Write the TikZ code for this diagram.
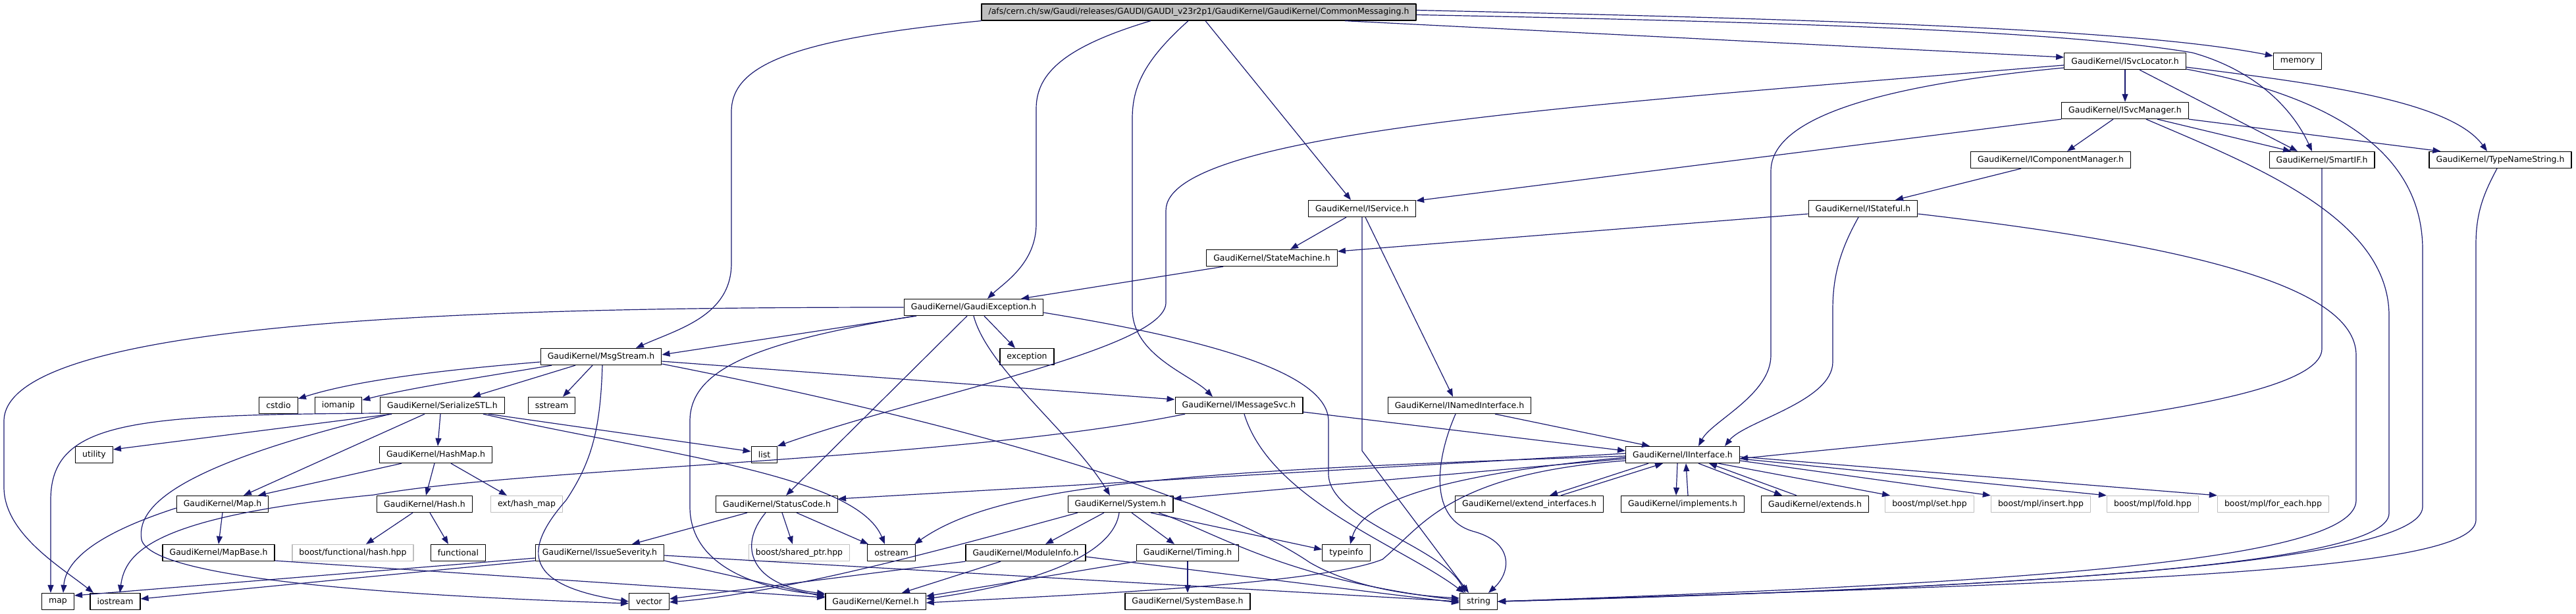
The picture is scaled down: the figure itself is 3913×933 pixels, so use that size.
\documentclass[tikz,border=0pt]{standalone}
\usepackage{fontspec}
\setmainfont{DejaVu Sans}
\usetikzlibrary{arrows.meta}
\definecolor{edgeblue}{HTML}{191970}
\definecolor{boxgray}{HTML}{BFBFBF}
\begin{document}
\begin{tikzpicture}[x=1pt,y=-1pt,line join=round,font=\fontsize{12.5}{14}\selectfont,
    hdr/.style={draw=black,line width=1.3pt,fill=white,minimum height=25pt,inner xsep=10.5pt,inner ysep=0pt},
    hdrroot/.style={hdr,fill=boxgray},
    hdrext/.style={hdr,draw=boxgray},
    dep/.style={draw=edgeblue,line width=1.2pt,-{Triangle[length=12pt,width=9pt]}}]
\useasboundingbox (0,0) rectangle (3913,933);
\node[hdrroot] (root) at (1821,18.5) {/afs/cern.ch/sw/Gaudi/releases/GAUDI/GAUDI\_v23r2p1/GaudiKernel/GaudiKernel/CommonMessaging.h};
\node[hdr] (svcloc) at (3228,93) {GaudiKernel/ISvcLocator.h};
\node[hdr] (memory) at (3490,93) {memory};
\node[hdr] (svcman) at (3228,168) {GaudiKernel/ISvcManager.h};
\node[hdr] (icompman) at (3115,243) {GaudiKernel/IComponentManager.h};
\node[hdr] (smartif) at (3527,243) {GaudiKernel/SmartIF.h};
\node[hdr] (typename) at (3798,243) {GaudiKernel/TypeNameString.h};
\node[hdr] (isvc) at (2069,317) {GaudiKernel/IService.h};
\node[hdr] (istateful) at (2830,317) {GaudiKernel/IStateful.h};
\node[hdr] (statemach) at (1932,392) {GaudiKernel/StateMachine.h};
\node[hdr] (gexc) at (1479,467) {GaudiKernel/GaudiException.h};
\node[hdr] (exception) at (1560,542) {exception};
\node[hdr] (msgstream) at (913,542) {GaudiKernel/MsgStream.h};
\node[hdr] (imsgsvc) at (1882,616) {GaudiKernel/IMessageSvc.h};
\node[hdr] (inamed) at (2217,616) {GaudiKernel/INamedInterface.h};
\node[hdr] (cstdio) at (423,616) {cstdio};
\node[hdr] (iomanip) at (514,616) {iomanip};
\node[hdr] (serial) at (672,616) {GaudiKernel/SerializeSTL.h};
\node[hdr] (sstream) at (838,616) {sstream};
\node[hdr] (utility) at (143,691) {utility};
\node[hdr] (list) at (1161,691) {list};
\node[hdr] (hashmap) at (662,691) {GaudiKernel/HashMap.h};
\node[hdr] (iiface) at (2556,691) {GaudiKernel/IInterface.h};
\node[hdr] (mapg) at (338,766) {GaudiKernel/Map.h};
\node[hdr] (hash) at (645,766) {GaudiKernel/Hash.h};
\node[hdrext] (exthash) at (800,766) {ext/hash\_map};
\node[hdr] (statuscode) at (1180,766) {GaudiKernel/StatusCode.h};
\node[hdr] (system) at (1702,766) {GaudiKernel/System.h};
\node[hdr] (extifs) at (2323,766) {GaudiKernel/extend\_interfaces.h};
\node[hdr] (implements) at (2556,766) {GaudiKernel/implements.h};
\node[hdr] (extends) at (2757,766) {GaudiKernel/extends.h};
\node[hdrext] (mplset) at (2931,766) {boost/mpl/set.hpp};
\node[hdrext] (mplinsert) at (3100,766) {boost/mpl/insert.hpp};
\node[hdrext] (mplfold) at (3270,766) {boost/mpl/fold.hpp};
\node[hdrext] (mplforeach) at (3453,766) {boost/mpl/for\_each.hpp};
\node[hdr] (mapbase) at (332,840) {GaudiKernel/MapBase.h};
\node[hdrext] (bfhash) at (536,840) {boost/functional/hash.hpp};
\node[hdr] (functional) at (696,840) {functional};
\node[hdr] (issue) at (911,840) {GaudiKernel/IssueSeverity.h};
\node[hdrext] (sharedptr) at (1214,840) {boost/shared\_ptr.hpp};
\node[hdr] (ostream) at (1354,840) {ostream};
\node[hdr] (moduleinfo) at (1558,840) {GaudiKernel/ModuleInfo.h};
\node[hdr] (timing) at (1804,840) {GaudiKernel/Timing.h};
\node[hdr] (typeinfo) at (2045,840) {typeinfo};
\node[hdr] (stdmap) at (88,914) {map};
\node[hdr] (iostream) at (175,914) {iostream};
\node[hdr] (vector) at (986,914) {vector};
\node[hdr] (kernel) at (1330,914) {GaudiKernel/Kernel.h};
\node[hdr] (systembase) at (1804,914) {GaudiKernel/SystemBase.h};
\node[hdr] (string) at (2246,914) {string};

\draw[dep] (root.south west) .. controls (1200,60) and (1111,100) .. (1111,170) -- (1111,400)
    .. controls (1111,480) and (1030,500) .. ([xshift=53]msgstream.north);
\draw[dep] ([xshift=-73]root.south) .. controls (1620,70) and (1574,110) .. (1574,165) -- (1574,340)
    .. controls (1574,400) and (1525,430) .. ([xshift=21]gexc.north);
\draw[dep] ([xshift=-16]root.south) .. controls (1740,90) and (1720,130) .. (1720,180) -- (1720,470)
    .. controls (1720,540) and (1810,570) .. ([xshift=-40]imsgsvc.north);
\draw[dep] ([xshift=10]root.south) -- ([xshift=-17]isvc.north);
\draw[dep] ([xshift=222]root.south) -- ([yshift=6]svcloc.west);
\draw[dep] ([yshift=3]root.east) .. controls (2800,30) and (3250,45) .. ([yshift=8]memory.west);
\draw[dep] ([yshift=-4]root.east) .. controls (2800,35) and (3150,50) .. (3330,80)
    .. controls (3420,105) and (3480,160) .. ([xshift=-15]smartif.north);
\draw[dep] (svcloc) -- (svcman);
\draw[dep] ([xshift=22]svcloc.south) -- ([xshift=-37]smartif.north);
\draw[dep] ([yshift=-9]svcloc.east) .. controls (3500,125) and (3720,150) .. ([xshift=-20]typename.north);
\draw[dep] ([yshift=-12]svcloc.east) .. controls (3560,150) and (3680,240) .. (3680,380) -- (3680,770)
    .. controls (3680,860) and (3000,895) .. (string.east);
\draw[dep] ([yshift=-6]svcloc.west) .. controls (2400,160) and (1771,200) .. (1771,320) -- (1771,460)
    .. controls (1771,530) and (1400,600) .. ([xshift=20]list.north);
\draw[dep] ([yshift=-10]svcloc.west) .. controls (2850,130) and (2690,180) .. (2690,260) -- (2690,540)
    .. controls (2690,600) and (2600,640) .. ([xshift=24]iiface.north);
\draw[dep] (svcman.south west) -- ([yshift=12]isvc.east);
\draw[dep] ([xshift=-18]svcman.south) -- ([xshift=25]icompman.north);
\draw[dep] ([xshift=49]svcman.south) -- ([xshift=-47]smartif.north);
\draw[dep] (svcman.south east) -- ([xshift=18]typename.north west);
\draw[dep] ([xshift=32]svcman.south) .. controls (3420,250) and (3629,330) .. (3629,480) -- (3629,780)
    .. controls (3629,860) and (3050,893) .. (string.east);
\draw[dep] ([xshift=-45]icompman.south) -- ([xshift=49]istateful.north);
\draw[dep] ([yshift=-8]istateful.west) -- ([yshift=10]statemach.east);
\draw[dep] ([xshift=-7]istateful.south) .. controls (2795,380) and (2784,420) .. (2784,470) -- (2784,550)
    .. controls (2784,610) and (2650,640) .. ([xshift=64]iiface.north);
\draw[dep] ([yshift=-8]istateful.east) .. controls (3300,370) and (3579,430) .. (3579,540) -- (3579,760)
    .. controls (3579,850) and (3100,885) .. (string.east);
\draw[dep] ([xshift=-5]typename.south) .. controls (3775,290) and (3761,320) .. (3761,370) -- (3761,790)
    .. controls (3761,870) and (3200,885) .. (string.east);
\draw[dep] (smartif.south) -- (3527,530) .. controls (3527,620) and (3000,660) .. ([yshift=-6]iiface.east);
\draw[dep] ([xshift=-24]isvc.south) -- ([xshift=28]statemach.north);
\draw[dep] (isvc.south) -- (2069,685) -- ([xshift=-15]string.north);
\draw[dep] ([xshift=5]isvc.south) -- ([xshift=-10]inamed.north);
\draw[dep] ([xshift=54]inamed.south) -- ([xshift=-50]iiface.north);
\draw[dep] ([xshift=-6]inamed.south) .. controls (2180,700) and (2170,790) .. (2240,808)
    .. controls (2300,825) and (2295,870) .. ([xshift=15]string.north);
\draw[dep] ([xshift=-74]statemach.south) -- ([xshift=72]gexc.north);
\draw[dep] ([xshift=-87]gexc.south) -- ([yshift=3]msgstream.east);
\draw[dep] (gexc.west) .. controls (800,467) and (6,480) .. (6,640) -- (6,740)
    .. controls (6,810) and (90,860) .. ([xshift=-33]iostream.north);
\draw[dep] ([xshift=16]gexc.south) -- ([xshift=-18]exception.north);
\draw[dep] ([xshift=-10]gexc.south) -- ([xshift=14]statuscode.north);
\draw[dep] (gexc.south) .. controls (1500,560) and (1630,660) .. ([xshift=-16]system.north);
\draw[dep] ([yshift=-8]gexc.east) .. controls (1800,510) and (2018,560) .. (2018,640) -- (2018,720)
    .. controls (2018,790) and (2190,830) .. ([xshift=-20]string.north);
\draw[dep] ([xshift=-90]gexc.south) .. controls (1150,520) and (1048,560) .. (1048,640) -- (1048,770)
    .. controls (1048,860) and (1150,895) .. ([yshift=10]kernel.west);
\draw[dep] ([yshift=-8]msgstream.west) .. controls (700,560) and (550,575) .. ([yshift=10]cstdio.east);
\draw[dep] ([xshift=-75]msgstream.south) .. controls (720,575) and (620,590) .. ([yshift=8]iomanip.east);
\draw[dep] ([xshift=-39]msgstream.south) -- ([xshift=46]serial.north);
\draw[dep] ([xshift=-13]msgstream.south) -- ([xshift=17]sstream.north);
\draw[dep] ([yshift=-7]msgstream.east) -- ([yshift=9]imsgsvc.west);
\draw[dep] ([xshift=2]msgstream.south) .. controls (912,650) and (900,700) .. (860,760)
    .. controls (790,840) and (800,890) .. (vector.west);
\draw[dep] ([yshift=-11]msgstream.east) .. controls (1500,650) and (1850,760) .. (1990,855)
    .. controls (2060,895) and (2150,905) .. ([yshift=5]string.west);
\draw[dep] ([xshift=-77]serial.south) -- ([yshift=8]utility.east);
\draw[dep] ([yshift=-12]serial.west) .. controls (200,630) and (77,640) .. (77,760) -- ([xshift=-11]stdmap.north);
\draw[dep] ([xshift=-27]serial.south) -- ([xshift=32]mapg.north);
\draw[dep] ([xshift=-3]serial.south) -- ([xshift=3]hashmap.north);
\draw[dep] ([xshift=-79]serial.south) .. controls (300,700) and (205,760) .. (215,820)
    .. controls (230,880) and (600,905) .. ([yshift=-3]vector.west);
\draw[dep] ([xshift=70]serial.south) -- ([yshift=5]list.west);
\draw[dep] ([xshift=62]serial.south) .. controls (1000,690) and (1300,720) .. ([xshift=-10]ostream.north);
\draw[dep] ([xshift=-52]hashmap.south) -- ([xshift=54]mapg.north);
\draw[dep] ([xshift=-2]hashmap.south) -- ([xshift=2]hash.north);
\draw[dep] ([xshift=23]hashmap.south) -- ([xshift=-30]exthash.north);
\draw[dep] ([xshift=-18]hash.south) -- ([xshift=20]bfhash.north);
\draw[dep] ([xshift=8]hash.south) -- ([xshift=-15]functional.north);
\draw[dep] (mapg.south) -- (mapbase.north);
\draw[dep] ([yshift=-6]mapg.west) .. controls (150,810) and (100,850) .. ([xshift=8]stdmap.north);
\draw[dep] ([yshift=-12]mapbase.east) -- ([yshift=6]kernel.west);
\draw[dep] ([yshift=-8]issue.west) -- ([yshift=9]stdmap.east);
\draw[dep] ([yshift=-12]issue.west) -- ([yshift=4]iostream.east);
\draw[dep] ([yshift=-12]issue.east) -- ([yshift=7]kernel.west);
\draw[dep] ([yshift=-4]issue.east) -- (string.west);
\draw[dep] ([xshift=-45]statuscode.south) -- ([xshift=49]issue.north);
\draw[dep] ([xshift=8]statuscode.south) -- ([xshift=-10]sharedptr.north);
\draw[dep] ([xshift=30]statuscode.south) -- ([xshift=-35]ostream.north);
\draw[dep] ([xshift=-17]statuscode.south) .. controls (1120,830) and (1140,890) .. ([yshift=12]kernel.west);
\draw[dep] ([xshift=-82]imsgsvc.south) .. controls (1450,700) and (800,710) .. (568,752)
    .. controls (230,785) and (190,840) .. ([xshift=7]iostream.north);
\draw[dep] ([yshift=-10]imsgsvc.east) -- ([yshift=6]iiface.west);
\draw[dep] ([xshift=8]imsgsvc.south) .. controls (1930,760) and (2130,830) .. ([xshift=-22]string.north);
\draw[dep] ([yshift=2]iiface.west) -- ([yshift=8]statuscode.east);
\draw[dep] ([yshift=-6]iiface.west) -- ([yshift=8]system.east);
\draw[dep] ([yshift=-2]iiface.west) .. controls (1800,715) and (1520,735) .. ([xshift=35]ostream.north);
\draw[dep] ([yshift=-4]iiface.west) .. controls (2200,720) and (2070,760) .. ([xshift=6]typeinfo.north);
\draw[dep] ([yshift=-9]iiface.west) .. controls (2200,720) and (2160,800) .. (2100,850)
    .. controls (2000,890) and (1600,905) .. ([yshift=-2]kernel.east);
\draw[dep] ([xshift=-52]iiface.south) -- ([xshift=31]extifs.north);
\draw[dep] ([xshift=48]extifs.north) -- ([xshift=-30]iiface.south);
\draw[dep] ([xshift=-8]iiface.south) -- ([xshift=-10]implements.north);
\draw[dep] ([xshift=8]implements.north) -- ([xshift=5]iiface.south);
\draw[dep] ([xshift=24]iiface.south) -- ([xshift=-50]extends.north);
\draw[dep] ([xshift=-28]extends.north) -- ([xshift=40]iiface.south);
\draw[dep] ([xshift=54]iiface.south) -- ([xshift=-60]mplset.north);
\draw[dep] ([yshift=-9]iiface.east) -- (mplinsert.north west);
\draw[dep] ([yshift=-6]iiface.east) -- (mplfold.north west);
\draw[dep] ([yshift=-3]iiface.east) -- (mplforeach.north west);
\draw[dep] ([xshift=-25]system.south) -- ([xshift=30]moduleinfo.north);
\draw[dep] ([xshift=17]system.south) -- ([xshift=-20]timing.north);
\draw[dep] ([xshift=-2]system.south) .. controls (1690,850) and (1550,890) .. ([yshift=4]kernel.east);
\draw[dep] ([xshift=-65]system.south) .. controls (1450,830) and (1200,900) .. ([yshift=-1]vector.east);
\draw[dep] ([xshift=46]system.south) -- ([yshift=5]typeinfo.west);
\draw[dep] ([xshift=58]system.south) .. controls (1850,810) and (1950,880) .. ([yshift=2]string.west);
\draw[dep] ([xshift=-38]moduleinfo.south) -- ([xshift=40]kernel.north);
\draw[dep] (moduleinfo.south west) -- ([yshift=4]vector.east);
\draw[dep] ([yshift=-6]moduleinfo.east) -- ([yshift=-2]string.west);
\draw[dep] (timing.south west) -- ([yshift=8]kernel.east);
\draw[dep] (timing) -- (systembase);
\end{tikzpicture}
\end{document}
